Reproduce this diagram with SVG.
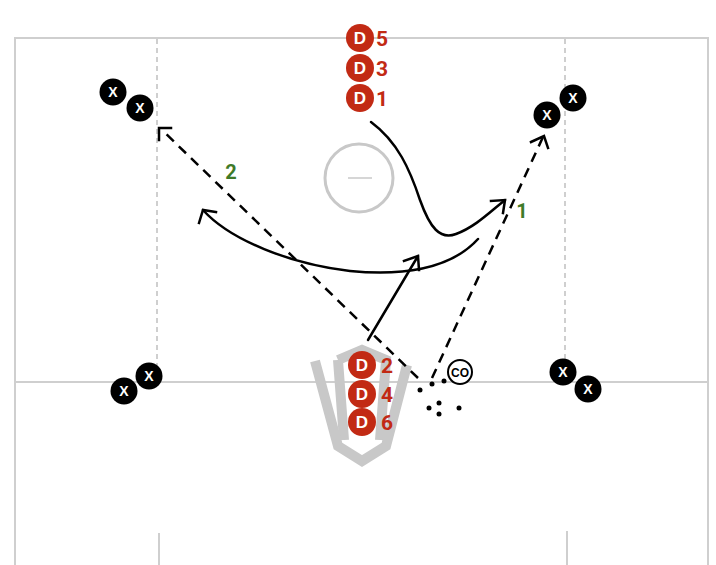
<svg xmlns="http://www.w3.org/2000/svg" width="716" height="565" viewBox="0 0 716 565">
<style>
.field{stroke:#cfcfcf;stroke-width:2;fill:none}
.gdash{stroke:#cfcfcf;stroke-width:2;fill:none;stroke-dasharray:5 4}
.goal{stroke:#c8c8c8;stroke-width:10;fill:none;stroke-linejoin:miter}
.run{stroke:#000;stroke-width:2.5;fill:none;stroke-linecap:round}
.pass{stroke:#000;stroke-width:2.5;fill:none;stroke-dasharray:10 7}
.head{stroke:#000;stroke-width:2.5;fill:none;stroke-linecap:square}
.dc{fill:#c22a14}
.dt{fill:#fff;font-family:"Liberation Sans",Arial,sans-serif;font-weight:bold;font-size:17px;text-anchor:middle}
.dn{fill:#c22a14;font-family:"Roboto","Liberation Sans",sans-serif;font-weight:bold;font-size:21px}
.xc{fill:#000}
.xt{fill:#fff;font-family:"Liberation Sans",Arial,sans-serif;font-weight:bold;font-size:14px;text-anchor:middle}
.lbl{fill:#3f7a28;font-family:"Roboto","Liberation Sans",sans-serif;font-weight:bold;font-size:20px;text-anchor:middle}
.ball{fill:#000}
</style>
<rect width="716" height="565" fill="#fff"/>
<g id="field">
<path class="field" d="M15,565 V38 H708 V565"/>
<line class="field" x1="15" y1="382" x2="708" y2="382"/>
<line class="gdash" x1="157" y1="39" x2="157" y2="370"/>
<line class="gdash" x1="565" y1="39" x2="565" y2="365"/>
<line class="field" x1="159" y1="533" x2="159" y2="565"/>
<line class="field" x1="567" y1="531" x2="567" y2="565"/>
<circle cx="359" cy="178" r="34" fill="none" stroke="#c8c8c8" stroke-width="3"/>
<line x1="348" y1="178" x2="372" y2="178" stroke="#c8c8c8" stroke-width="1.5"/>
</g>
<g id="goal">
<path class="goal" d="M338,360 L362,350 L386,360 L380,440 M344,440 L338,360"/>
<path class="goal" stroke-width="13" d="M315,361 L338,446 L362,461 L386,446 L407,365"/>
</g>
<g id="connectors">
<path class="run" d="M371,122 C398,142 410,170 420,200 C430,228 440,240 456,234 C475,227 490,212 505,200"/>
<path class="head" d="M491,201 L505,200 L503,213"/>
<path class="run" d="M478,239 C450,270 400,276 350,271 C290,264 230,240 203,210"/>
<path class="head" d="M199,223 L203,210 L216,212"/>
<path class="run" d="M368,340 L418,256"/>
<path class="head" d="M404,261 L418,256 L419,270"/>
<path class="pass" d="M418,378 L162,130"/>
<path class="head" d="M159,140 L159,128 L171,128"/>
<path class="pass" d="M432,378 L543,137"/>
<path class="head" d="M531,142 L544,136 L548,148"/>
</g>
<g id="balls">
<circle class="ball" cx="432" cy="384" r="2.5"/>
<circle class="ball" cx="444" cy="381" r="2.5"/>
<circle class="ball" cx="420" cy="390" r="2.5"/>
<circle class="ball" cx="429" cy="408" r="2.5"/>
<circle class="ball" cx="439" cy="403" r="2.5"/>
<circle class="ball" cx="439" cy="414" r="2.5"/>
<circle class="ball" cx="459" cy="408" r="2.5"/>
</g>
<g id="d5"><circle class="dc" cx="360" cy="38" r="14"/><text class="dt" x="360" y="44">D</text><text class="dn" x="376" y="46">5</text></g>
<g id="d3"><circle class="dc" cx="360" cy="68" r="14"/><text class="dt" x="360" y="74">D</text><text class="dn" x="376" y="76">3</text></g>
<g id="d1"><circle class="dc" cx="360" cy="98" r="14"/><text class="dt" x="360" y="104">D</text><text class="dn" x="376" y="106">1</text></g>
<g id="d2"><circle class="dc" cx="362" cy="365" r="14"/><text class="dt" x="362" y="371">D</text><text class="dn" x="381" y="373">2</text></g>
<g id="d4"><circle class="dc" cx="362" cy="394" r="14"/><text class="dt" x="362" y="400">D</text><text class="dn" x="381" y="402">4</text></g>
<g id="d6"><circle class="dc" cx="362" cy="422" r="14"/><text class="dt" x="362" y="428">D</text><text class="dn" x="381" y="430">6</text></g>
<g id="x1"><circle class="xc" cx="113" cy="92" r="13.5"/><text class="xt" x="113" y="97">X</text></g>
<g id="x2"><circle class="xc" cx="140" cy="108" r="13.5"/><text class="xt" x="140" y="113">X</text></g>
<g id="x3"><circle class="xc" cx="547" cy="115" r="13.5"/><text class="xt" x="547" y="120">X</text></g>
<g id="x4"><circle class="xc" cx="573" cy="98" r="13.5"/><text class="xt" x="573" y="103">X</text></g>
<g id="x5"><circle class="xc" cx="124" cy="391" r="13.5"/><text class="xt" x="124" y="396">X</text></g>
<g id="x6"><circle class="xc" cx="149" cy="376" r="13.5"/><text class="xt" x="149" y="381">X</text></g>
<g id="x7"><circle class="xc" cx="563" cy="372" r="13.5"/><text class="xt" x="563" y="377">X</text></g>
<g id="x8"><circle class="xc" cx="588" cy="389" r="13.5"/><text class="xt" x="588" y="394">X</text></g>
<g id="co"><circle cx="460" cy="372" r="12" fill="#fff" stroke="#000" stroke-width="2"/><text x="460" y="377" fill="#000" font-family="Liberation Sans,Arial,sans-serif" font-weight="bold" font-size="12" text-anchor="middle">CO</text></g>
<g id="labels">
<text class="lbl" x="231" y="179">2</text>
<text class="lbl" x="522" y="218">1</text>
</g>
</svg>
